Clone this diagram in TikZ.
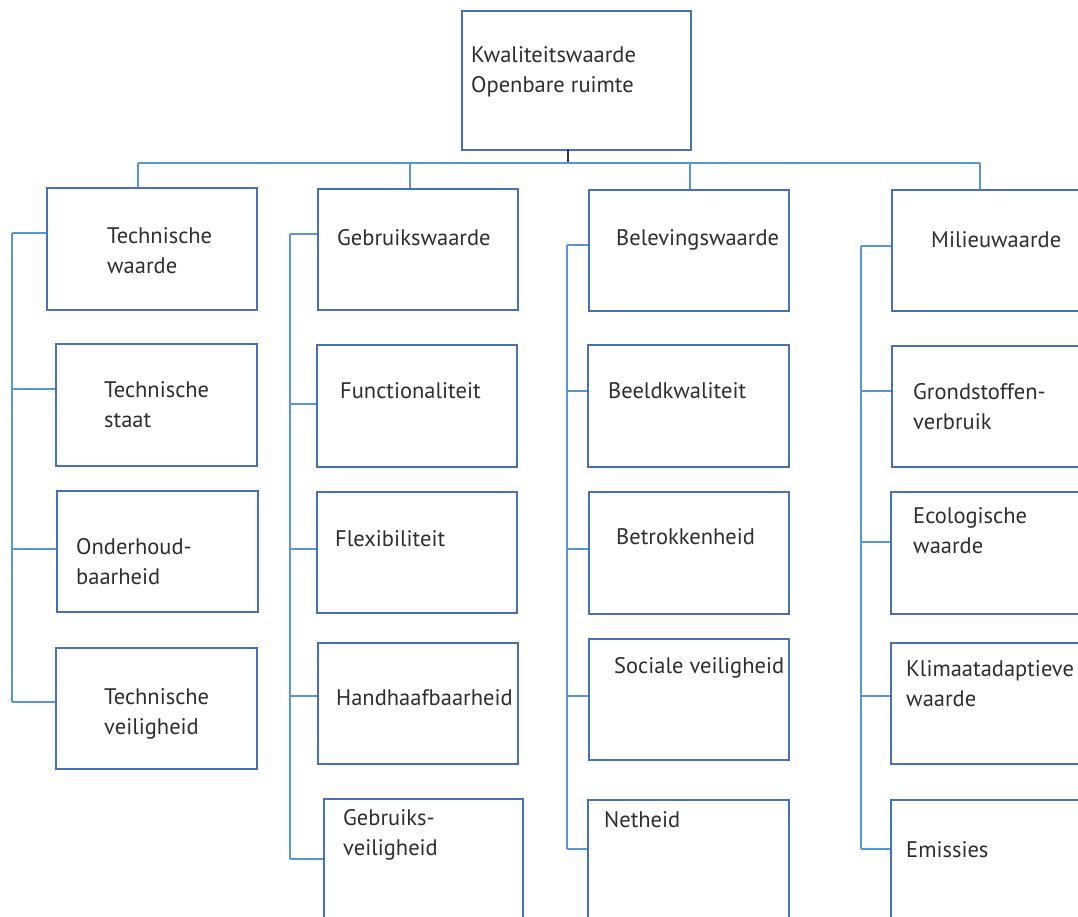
\documentclass[tikz,border=0pt]{standalone}
\usepackage{fontspec}
\setmainfont{PT Sans}
\definecolor{boxblue}{RGB}{70,112,190}
\definecolor{lineblue}{RGB}{88,150,215}
\definecolor{txtgray}{RGB}{45,45,50}
\definecolor{stemgray}{RGB}{50,50,50}
\begin{document}
\begin{tikzpicture}[x=1pt,y=-1pt,
  box/.style={draw=boxblue,line width=1.6pt,inner sep=0pt,anchor=north west,fill=white},
  lbl/.style={anchor=north west,inner sep=0pt,align=left,text=txtgray,font=\fontsize{22.5}{30}\selectfont},
  conn/.style={draw=lineblue,line width=1.5pt},
  stem/.style={draw=stemgray,line width=1.5pt}]
\clip (0,0) rectangle (1078,916);
\fill[white] (0,0) rectangle (1078,916);

% ---------- boxes ----------
\node[box,minimum width=229pt,minimum height=139pt] (top) at (461,10) {};
% column 1
\node[box,minimum width=210pt,minimum height=122pt] (tw) at (46,187) {};
\node[box,minimum width=201pt,minimum height=122pt] (ts) at (55,343) {};
\node[box,minimum width=201pt,minimum height=121pt] (oh) at (56,490) {};
\node[box,minimum width=201pt,minimum height=121pt] (tv) at (55,647) {};
% column 2
\node[box,minimum width=200pt,minimum height=121pt] (gw) at (317,188) {};
\node[box,minimum width=200pt,minimum height=122pt] (fu) at (316,344) {};
\node[box,minimum width=200pt,minimum height=121pt] (fl) at (316,491) {};
\node[box,minimum width=200pt,minimum height=121pt] (hh) at (317,642) {};
\node[box,minimum width=199pt,minimum height=150pt] (gv) at (323,798) {};
% column 3
\node[box,minimum width=200pt,minimum height=121pt] (bw) at (588,189) {};
\node[box,minimum width=201pt,minimum height=122pt] (bk) at (587,344) {};
\node[box,minimum width=200pt,minimum height=122pt] (bt) at (588,491) {};
\node[box,minimum width=200pt,minimum height=121pt] (sv) at (588,638) {};
\node[box,minimum width=201pt,minimum height=150pt] (ne) at (587,799) {};
% column 4
\node[box,minimum width=200pt,minimum height=121pt] (mw) at (891,189) {};
\node[box,minimum width=200pt,minimum height=121pt] (gs) at (891,345) {};
\node[box,minimum width=200pt,minimum height=122pt] (ew) at (890,491) {};
\node[box,minimum width=200pt,minimum height=121pt] (ka) at (890,642) {};
\node[box,minimum width=200pt,minimum height=150pt] (em) at (890,799) {};

% ---------- texts ----------
\node[lbl] (top-t) at (471,46) {Kwaliteitswaarde\\Openbare ruimte};
\node[lbl] (tw-t) at (107,227) {Technische\\waarde};
\node[lbl] (ts-t) at (104,381) {Technische\\staat};
\node[lbl] (oh-t) at (76,538) {Onderhoud-\\baarheid};
\node[lbl] (tv-t) at (104,688) {Technische\\veiligheid};
\node[lbl] (gw-t) at (337,229) {Gebruikswaarde};
\node[lbl] (fu-t) at (340,382) {Functionaliteit};
\node[lbl] (fl-t) at (335,530) {Flexibiliteit};
\node[lbl] (hh-t) at (336,689) {Handhaafbaarheid};
\node[lbl] (gv-t) at (343,809) {Gebruiks-\\veiligheid};
\node[lbl] (bw-t) at (616,229) {Belevingswaarde};
\node[lbl] (bk-t) at (608,382) {Beeldkwaliteit};
\node[lbl] (bt-t) at (616,528) {Betrokkenheid};
\node[lbl] (sv-t) at (614,657) {Sociale veiligheid};
\node[lbl] (ne-t) at (604,811) {Netheid};
\node[lbl] (mw-t) at (931,231) {Milieuwaarde};
\node[lbl] (gs-t) at (913,383) {Grondstoffen-\\verbruik};
\node[lbl] (ew-t) at (913,507) {Ecologische\\waarde};
\node[lbl] (ka-t) at (906,660) {Klimaatadaptieve\\waarde};
\node[lbl] (em-t) at (906,841) {Emissies};

% ---------- top connectors ----------
\coordinate (stemtop) at (568,149);
\coordinate (stembot) at (568,163);
\coordinate (busL) at (138,163);
\coordinate (busR) at (980,163);
\draw[stem] (stemtop) -- (stembot);
\draw[conn] (busL) -- (busR);
\draw[conn] (busL) -- (busL |- tw.north);
\draw[conn] (410,163) -- (gw.north -| 410,0);
\draw[conn] (690,163) -- (bw.north -| 690,0);
\draw[conn] (busR) -- (busR |- mw.north);

% ---------- column 1 ----------
\coordinate (a1) at (12,233); \coordinate (a2) at (12,389);
\coordinate (a3) at (12,549); \coordinate (a4) at (12,702);
\draw[conn] (a1) -- (a4);
\draw[conn] (a1) -- (a1 -| tw.west);
\draw[conn] (a2) -- (a2 -| ts.west);
\draw[conn] (a3) -- (a3 -| oh.west);
\draw[conn] (a4) -- (a4 -| tv.west);

% ---------- column 2 ----------
\coordinate (b1) at (290,234); \coordinate (b2) at (290,404);
\coordinate (b3) at (290,549); \coordinate (b4) at (290,696);
\coordinate (b5) at (290,859);
\draw[conn] (b1) -- (b5);
\draw[conn] (b1) -- (b1 -| gw.west);
\draw[conn] (b2) -- (b2 -| fu.west);
\draw[conn] (b3) -- (b3 -| fl.west);
\draw[conn] (b4) -- (b4 -| hh.west);
\draw[conn] (b5) -- (b5 -| gv.west);

% ---------- column 3 ----------
\coordinate (c1) at (567,245); \coordinate (c2) at (567,391);
\coordinate (c3) at (567,549); \coordinate (c4) at (567,696);
\coordinate (c5) at (567,849);
\draw[conn] (c1) -- (c5);
\draw[conn] (c1) -- (c1 -| bw.west);
\draw[conn] (c2) -- (c2 -| bk.west);
\draw[conn] (c3) -- (c3 -| bt.west);
\draw[conn] (c4) -- (c4 -| sv.west);
\draw[conn] (c5) -- (c5 -| ne.west);

% ---------- column 4 ----------
\coordinate (d1) at (861,246); \coordinate (d2) at (861,391);
\coordinate (d3) at (861,542); \coordinate (d4) at (861,696);
\coordinate (d5) at (861,849);
\draw[conn] (d1) -- (d5);
\draw[conn] (d1) -- (d1 -| mw.west);
\draw[conn] (d2) -- (d2 -| gs.west);
\draw[conn] (d3) -- (d3 -| ew.west);
\draw[conn] (d4) -- (d4 -| ka.west);
\draw[conn] (d5) -- (d5 -| em.west);
\end{tikzpicture}
\end{document}
